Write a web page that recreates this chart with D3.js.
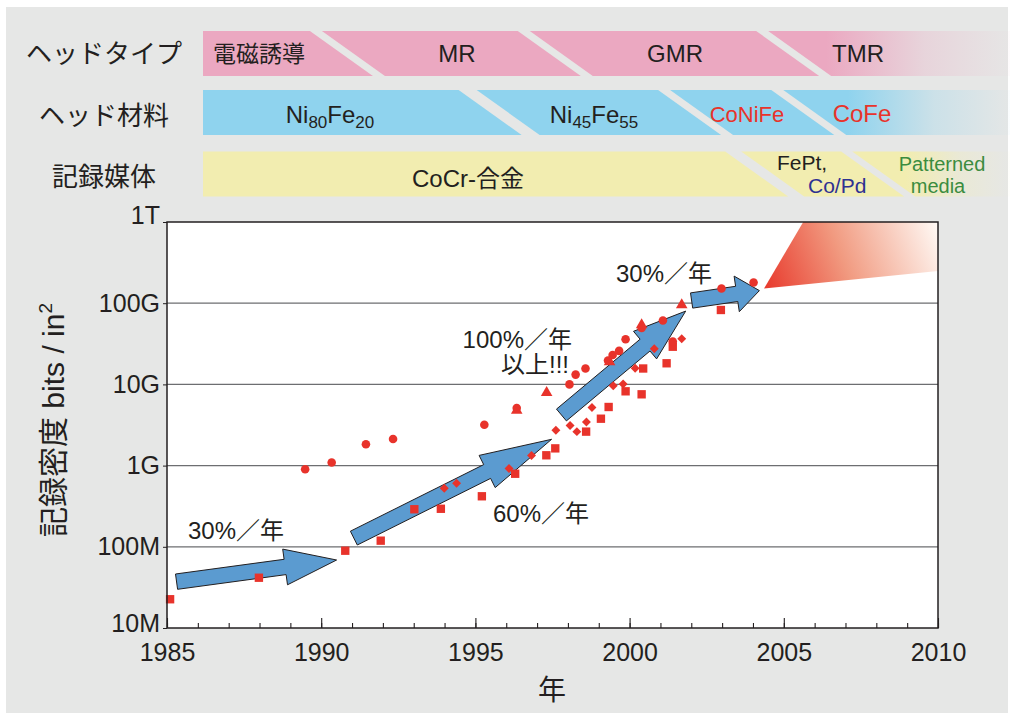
<!DOCTYPE html>
<html>
<head>
<meta charset="utf-8">
<script src="https://cdn.jsdelivr.net/npm/d3@7"></script>
<style>
  body { margin: 0; background: #fff; }
  text { font-family: "Liberation Sans", Arial, "Noto Sans CJK JP", sans-serif; fill: #231f20; }
</style>
</head>
<body>
<script>
const WIDTH = 1013;
const HEIGHT = 715;
const BG = '#e6e7e6';
const RED = '#e8332b';
const INK = '#231f20';

// ---- data (year, bits/in^2) ----
const squares = [
  [1985.10, 22.6e6], [1987.98, 41.6e6], [1990.78, 89.5e6], [1991.93, 119e6],
  [1993.02, 290e6], [1993.88, 294e6], [1995.21, 419e6], [1996.29, 794e6],
  [1997.30, 1.34e9], [1997.59, 1.63e9], [1998.59, 2.62e9], [1999.07, 3.78e9],
  [1999.32, 5.27e9], [1999.87, 8.22e9], [2000.39, 7.55e9], [2000.44, 15.7e9],
  [2001.20, 18.2e9], [2001.40, 29.1e9], [2002.96, 82.5e9]
];
const diamonds = [
  [1993.99, 525e6], [1994.39, 605e6], [1996.09, 921e6], [1996.82, 1.33e9],
  [1997.61, 2.72e9], [1998.07, 3.12e9], [1998.29, 2.62e9], [1998.60, 3.44e9],
  [1998.78, 5.2e9], [1999.47, 9.6e9], [1999.79, 10.1e9], [2000.18, 15.8e9],
  [2000.80, 27.5e9], [2001.69, 36.5e9]
];
const circles = [
  [1989.48, 900e6], [1990.34, 1.09e9], [1991.45, 1.83e9], [1992.33, 2.13e9],
  [1995.29, 3.18e9], [1996.34, 5.12e9], [1998.05, 10.0e9], [1998.25, 13.2e9],
  [1998.57, 15.7e9], [1999.30, 19.7e9], [1999.45, 23.0e9], [1999.66, 25.9e9],
  [1999.87, 35.9e9], [2000.39, 49.5e9], [2001.08, 61.2e9], [2001.40, 33.7e9],
  [2002.98, 152e9], [2004.02, 180e9]
];
const triangles = [
  [1996.34, 4.77e9], [1997.31, 7.9e9], [1999.35, 18.9e9], [2000.39, 53.9e9],
  [2001.69, 95e9]
];

// trend arrows: [tail, tip]
const trendArrows = [
  [[1985.31, 37.2e6], [1990.50, 68.8e6]],
  [[1991.06, 128e6], [1997.47, 2.11e9]],
  [[1997.79, 4.2e9], [2001.82, 80e9]],
  [[2002.01, 108e9], [2004.21, 143e9]]
];
const trendLabels = ['30%／年', '60%／年', '100%／年', '30%／年'];

// future projection wedge
const wedge = [[2004.36, 152e9], [2005.63, 1e12], [2010, 1e12], [2010, 250e9]];

const yTicks = [1e7, 1e8, 1e9, 1e10, 1e11, 1e12];
const yTickLabels = ['10M', '100M', '1G', '10G', '100G', '1T'];
const xMajor = [1985, 1990, 1995, 2000, 2005, 2010];
const xMinor = d3.range(1985, 2011);

// technology bands
const rowTitles = ['ヘッドタイプ', 'ヘッド材料', '記録媒体'];
const headTypes = ['電磁誘導', 'MR', 'GMR', 'TMR'];
const headTypeBreaks = [1990.85, 1997.59, 2005.32];
const headMaterials = ['Ni80Fe20', 'Ni45Fe55', 'CoNiFe', 'CoFe'];
const headMaterialBreaks = [1995.77, 2002.14, 2005.81];
const mediaTypes = ['CoCr-合金', 'FePt, Co/Pd', 'Patterned media'];
const mediaBreaks = [2004.38, 2008.06];

// ---- layout ----
const plot = { left: 167, right: 938, top: 222, bottom: 628 };
const x = d3.scaleLinear().domain([1985, 2010]).range([plot.left, plot.right]);
const y = d3.scaleLog().domain([1e7, 1e12]).range([plot.bottom, plot.top]);

const svg = d3.select('body').append('svg')
  .attr('width', WIDTH)
  .attr('height', HEIGHT)
  .attr('viewBox', `0 0 ${WIDTH} ${HEIGHT}`);

const defs = svg.append('defs');

svg.append('rect')
  .attr('x', 6).attr('y', 7)
  .attr('width', 1002).attr('height', 706)
  .attr('fill', BG);

// ---- bands ----
const bandLeft = 203;
const bandRight = 1010;
const slant = 31.5;

function fadeGrad(id, color, x0, x1) {
  const g = defs.append('linearGradient')
    .attr('id', id)
    .attr('gradientUnits', 'userSpaceOnUse')
    .attr('x1', x0).attr('x2', x1).attr('y1', 0).attr('y2', 0);
  g.append('stop').attr('offset', 0).attr('stop-color', color).attr('stop-opacity', 1);
  g.append('stop').attr('offset', 0.55).attr('stop-color', color).attr('stop-opacity', 0.3);
  g.append('stop').attr('offset', 1).attr('stop-color', color).attr('stop-opacity', 0.04);
}

function drawBand(y0, y1, breaks, gaps, color, fadeId, fadeFrom, fadeTo) {
  fadeGrad(fadeId, color, fadeFrom, fadeTo);
  const mids = breaks.map(b => x(b));
  const n = mids.length + 1;
  for (let i = 0; i < n; i++) {
    const pts = [];
    if (i === 0) {
      pts.push([bandLeft, y0], [bandLeft, y1]);
    } else {
      const m = mids[i - 1] + gaps[i - 1] / 2;
      pts.push([m - slant, y0], [m + slant, y1]);
    }
    if (i === n - 1) {
      pts.push([bandRight, y1], [bandRight, y0]);
    } else {
      const m = mids[i] - gaps[i] / 2;
      pts.push([m + slant, y1], [m - slant, y0]);
    }
    svg.append('path')
      .attr('d', 'M' + pts.join('L') + 'Z')
      .attr('fill', i === n - 1 ? `url(#${fadeId})` : color);
  }
}

drawBand(31, 76, headTypeBreaks, [12, 12, 12], '#eba8c1', 'fadePink', 826, 1005);
drawBand(90, 135, headMaterialBreaks, [18, 12, 12], '#8fd3ee', 'fadeBlue', 848, 1005);
drawBand(151.5, 196.5, mediaBreaks, [16, 11], '#f2edb0', 'fadeYellow', 905, 1005);

// row titles
const rowTitleY = [62.5, 125, 186];
rowTitles.forEach((t, i) => {
  svg.append('text')
    .attr('x', 104).attr('y', rowTitleY[i])
    .attr('text-anchor', 'middle')
    .attr('font-size', 26)
    .text(t);
});

// head type labels
const headTypePos = [[213, 61.5, 'start'], [457, 61.5, 'middle'], [675, 61.5, 'middle'], [858, 61.5, 'middle']];
headTypes.forEach((t, i) => {
  svg.append('text')
    .attr('x', headTypePos[i][0]).attr('y', headTypePos[i][1])
    .attr('text-anchor', headTypePos[i][2])
    .attr('font-size', i === 0 ? 23 : 24)
    .text(t);
});

// head material labels (with subscripts)
function subText(xc, yb, str, size, fill) {
  const t = svg.append('text')
    .attr('x', xc).attr('y', yb)
    .attr('text-anchor', 'middle')
    .attr('font-size', size)
    .style('fill', fill);
  const parts = str.match(/[A-Za-z]+|\d+/g);
  parts.forEach(p => {
    if (/\d/.test(p)) {
      t.append('tspan').attr('font-size', 17).attr('dy', 5).text(p);
    } else {
      const ts = t.append('tspan').text(p);
      if (t.selectAll('tspan').size() > 1) ts.attr('dy', -5);
    }
  });
}
subText(330, 122.5, headMaterials[0], 24, INK);
subText(594, 122.5, headMaterials[1], 24, INK);
svg.append('text').attr('x', 747).attr('y', 121.5).attr('text-anchor', 'middle')
  .attr('font-size', 22).style('fill', RED).text(headMaterials[2]);
svg.append('text').attr('x', 862).attr('y', 121.5).attr('text-anchor', 'middle')
  .attr('font-size', 24).style('fill', RED).text(headMaterials[3]);

// media labels
svg.append('text').attr('x', 468).attr('y', 186.5).attr('text-anchor', 'middle')
  .attr('font-size', 24).text(mediaTypes[0]);
const fept = mediaTypes[1].split(' ');
svg.append('text').attr('x', 777).attr('y', 170).attr('font-size', 21).text(fept[0]);
svg.append('text').attr('x', 808).attr('y', 192.5).attr('font-size', 21)
  .style('fill', '#2e3192').text(fept[1]);
const pm = mediaTypes[2].split(' ');
svg.append('text').attr('x', 942).attr('y', 170.5).attr('text-anchor', 'middle')
  .attr('font-size', 20).style('fill', '#3b8c3f').text(pm[0]);
svg.append('text').attr('x', 938).attr('y', 192.5).attr('text-anchor', 'middle')
  .attr('font-size', 20).style('fill', '#3b8c3f').text(pm[1]);

// ---- plot ----
svg.append('rect')
  .attr('x', plot.left).attr('y', plot.top)
  .attr('width', plot.right - plot.left).attr('height', plot.bottom - plot.top)
  .attr('fill', '#fff');

svg.append('g').selectAll('line')
  .data(yTicks.slice(1, -1))
  .join('line')
  .attr('x1', plot.left).attr('x2', plot.right)
  .attr('y1', d => y(d)).attr('y2', d => y(d))
  .attr('stroke', '#6d6e71').attr('stroke-width', 1.3);

// projection wedge
const wg = defs.append('linearGradient')
  .attr('id', 'wedgeGrad')
  .attr('gradientUnits', 'userSpaceOnUse')
  .attr('x1', x(2004.36)).attr('y1', y(152e9))
  .attr('x2', x(2010)).attr('y2', y(1e12));
wg.append('stop').attr('offset', 0).attr('stop-color', '#e8392c');
wg.append('stop').attr('offset', 0.45).attr('stop-color', '#f19a80');
wg.append('stop').attr('offset', 1).attr('stop-color', '#fffaf6');
svg.append('path')
  .attr('d', d3.line().x(d => x(d[0])).y(d => y(d[1]))(wedge) + 'Z')
  .attr('fill', 'url(#wedgeGrad)');

// arrows (drawn under the markers)
function arrowPath(a, b, sw, hw, hl) {
  const x0 = x(a[0]), y0 = y(a[1]), x1 = x(b[0]), y1 = y(b[1]);
  const len = Math.hypot(x1 - x0, y1 - y0);
  const ux = (x1 - x0) / len, uy = (y1 - y0) / len;
  const nx = -uy, ny = ux;
  const bx = x1 - ux * hl, by = y1 - uy * hl;
  const pts = [
    [x0 + nx * sw, y0 + ny * sw],
    [bx + nx * sw, by + ny * sw],
    [bx + nx * hw, by + ny * hw],
    [x1, y1],
    [bx - nx * hw, by - ny * hw],
    [bx - nx * sw, by - ny * sw],
    [x0 - nx * sw, y0 - ny * sw]
  ];
  return 'M' + pts.map(p => p.map(v => v.toFixed(1)).join(',')).join('L') + 'Z';
}
const headLens = [52, 72, 53, 23];
trendArrows.forEach((ar, i) => {
  svg.append('path')
    .attr('d', arrowPath(ar[0], ar[1], 7.7, 18, headLens[i]))
    .attr('fill', '#5b9bd0')
    .attr('stroke', INK)
    .attr('stroke-width', 1)
    .attr('stroke-linejoin', 'miter');
});

// markers
const marks = svg.append('g');
function drawMarks(data, type, size, rotate) {
  marks.append('g').selectAll('path')
    .data(data)
    .join('path')
    .attr('transform', d => `translate(${x(d[0])},${y(d[1])})` + (rotate ? ' rotate(45)' : ''))
    .attr('d', d3.symbol().type(type).size(size))
    .attr('fill', RED);
}
drawMarks(squares, d3.symbolSquare, 70, false);
drawMarks(diamonds, d3.symbolSquare, 40, true);
drawMarks(circles, d3.symbolCircle, 58, false);
drawMarks(triangles, d3.symbolTriangle, 58, false);

// trend labels
const labelPos = [[188, 539, 'start'], [493, 522, 'start'], [572, 348, 'end'], [616, 281.5, 'start']];
trendLabels.forEach((t, i) => {
  svg.append('text')
    .attr('x', labelPos[i][0]).attr('y', labelPos[i][1])
    .attr('text-anchor', labelPos[i][2])
    .attr('font-size', 24)
    .text(t);
});
svg.append('text').attr('x', 569).attr('y', 373).attr('text-anchor', 'end')
  .attr('font-size', 24).text('以上!!!');

// frame
svg.append('rect')
  .attr('x', plot.left).attr('y', plot.top)
  .attr('width', plot.right - plot.left).attr('height', plot.bottom - plot.top)
  .attr('fill', 'none').attr('stroke', INK).attr('stroke-width', 1.5);

// x axis: minor + major ticks drawn inward
const xMinorAxis = svg.append('g')
  .attr('transform', `translate(0,${plot.bottom})`)
  .call(d3.axisBottom(x).tickValues(xMinor).tickSize(-5).tickFormat(''));
const xMajorAxis = svg.append('g')
  .attr('transform', `translate(0,${plot.bottom})`)
  .call(d3.axisBottom(x).tickValues(xMajor).tickSize(-10).tickPadding(15).tickFormat(d3.format('d')));
[xMinorAxis, xMajorAxis].forEach(g => {
  g.select('.domain').remove();
  g.selectAll('line').attr('stroke', INK).attr('stroke-width', 1.1);
});
xMajorAxis.selectAll('text')
  .attr('font-size', 25)
  .attr('font-family', null)
  .style('fill', INK);

const yAxis = svg.append('g')
  .attr('transform', `translate(${plot.left},0)`)
  .call(d3.axisLeft(y).tickValues(yTicks).tickSize(4).tickPadding(3)
    .tickFormat((d, i) => yTickLabels[i]));
yAxis.select('.domain').remove();
yAxis.selectAll('line').attr('stroke', INK);
yAxis.selectAll('text')
  .attr('font-size', 25)
  .attr('font-family', null)
  .style('fill', INK);
yAxis.selectAll('.tick').filter(d => d === 1e12).select('text').attr('y', -7);
yAxis.selectAll('.tick').filter(d => d === 1e7).select('text').attr('y', -5);

// axis titles
svg.append('text')
  .attr('x', 552).attr('y', 700)
  .attr('text-anchor', 'middle')
  .attr('font-size', 28)
  .text('年');

const yTitle = svg.append('text')
  .attr('transform', 'translate(64,420) rotate(-90)')
  .attr('text-anchor', 'middle')
  .attr('font-size', 30);
yTitle.append('tspan').text('記録密度 bits / in');
yTitle.append('tspan').attr('font-size', 19).attr('dy', -12).text('2');
</script>
</body>
</html>
